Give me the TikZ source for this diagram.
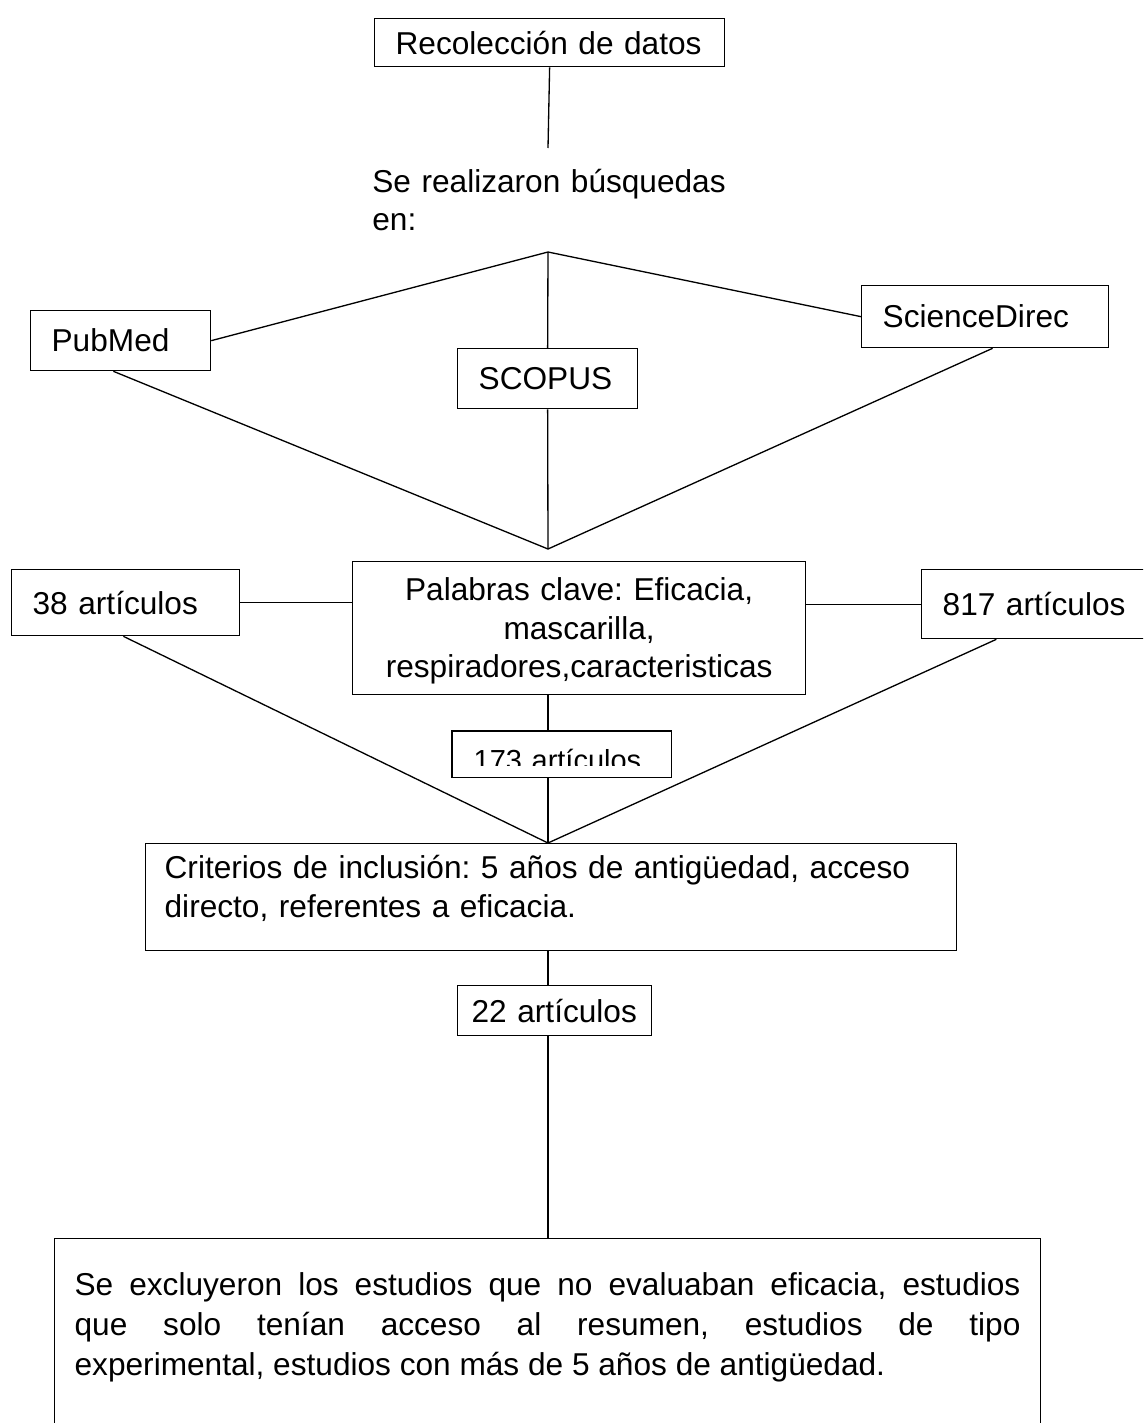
\documentclass[tikz,border=0pt]{standalone}
\usepackage{fontspec}
\setmainfont{Liberation Sans}
\usetikzlibrary{positioning, calc}
\tolerance=10000
\hbadness=10000
\frenchspacing

\tikzset{
  caja/.style={draw, line width=0.75pt, inner sep=0pt, anchor=north west, align=left},
  enlace/.style={line width=0.75pt},
}

\begin{document}
\begin{tikzpicture}[x=0.02cm, y=-0.02cm, font=\fontsize{18}{22}\selectfont]
\useasboundingbox (0,0) rectangle (1143,1423);
\clip (0,0) rectangle (1143,1423);

% Inicio
\node[caja, minimum width=7cm, minimum height=0.96cm, text width=6.16cm] (reco) at (374,18) {Recolección de datos};
\coordinate (fin1) at (548,148);
\node[anchor=base west, text width=7.2cm, align=left, inner sep=0pt] (busq) at (372,192) {Se realizaron búsquedas\\en:};
\coordinate (apex1) at (548,252);

% Bases de datos
\node[caja, minimum width=3.6cm, minimum height=1.2cm, text width=2.76cm] (pubmed) at (30,310) {PubMed};
\node[caja, minimum width=3.6cm, minimum height=1.2cm, text width=2.76cm] (scopus) at (457,348) {SCOPUS};
\node[caja, minimum width=4.94cm, minimum height=1.24cm, text width=4.1cm] (sd) at (861,285) {ScienceDirec};
\coordinate (apex2) at (548,549);

% Palabras clave y resultados
\node[caja, minimum width=9.06cm, text width=8.22cm, align=center, text height=0.78cm, text depth=1.88cm] (clave) at (352,561) {Palabras clave: Eficacia,\\mascarilla,\\respiradores,caracteristicas};
\node[caja, minimum width=4.56cm, minimum height=1.32cm, text width=3.72cm] (a38) at (11,569) {38 artículos};
\node[caja, minimum width=5cm, minimum height=1.38cm, text width=4.16cm] (a817) at (921,569) {817 artículos};

\begin{scope}
\clip (440,720) rectangle (680,765);
\node[caja, draw=none, minimum width=4.36cm, text width=3.52cm, font=\fontsize{16.5}{20}\selectfont, text height=0.78cm, text depth=0.12cm] (n173) at (452,731) {173 artículos};
\end{scope}
\draw[enlace] (n173.south west) rectangle (n173.north east);

% Criterios
\node[caja, minimum width=16.22cm, text width=15.46cm, text height=0.7cm, text depth=1.44cm] (crit) at (145,843) {Criterios de inclusión: 5 años de antigüedad, acceso\\directo, referentes a eficacia.};
\coordinate (apex3) at (apex2 |- crit.north);
\node[caja, minimum width=3.88cm, minimum height=1cm, text width=3.32cm] (n22) at (457,985) {22 artículos};
\node[caja, minimum width=19.72cm, text width=18.92cm, align=justify, font=\fontsize{18}{22.6}\selectfont, text height=1.14cm, text depth=4cm] (excl) at (54,1238) {Se excluyeron los estudios que no evaluaban eficacia, estudios\linebreak que solo tenían acceso al resumen, estudios de tipo\linebreak experimental, estudios con más de 5 años de antigüedad.};

% Conectores
\draw[enlace] (reco.south) -- (fin1);
\draw[enlace] (apex1) -- (pubmed.east);
\draw[enlace] (apex1) -- (scopus.north);
\draw[enlace] (apex1) -- (sd.west);
\draw[enlace] ($(pubmed.south west)!0.46!(pubmed.south east)$) -- (apex2);
\draw[enlace] (scopus.south) -- (apex2);
\draw[enlace] ($(sd.south west)!0.53!(sd.south east)$) -- (apex2);
\draw[enlace] (a38.east) -- (a38.east -| clave.west);
\draw[enlace] (a817.west) -- (a817.west -| clave.east);
\draw[enlace] (apex2 |- clave.south) -- (apex2 |- n173.north);
\draw[enlace] ($(a38.south west)!0.49!(a38.south east)$) -- (apex3);
\draw[enlace] (apex2 |- n173.south) -- (apex3);
\draw[enlace] ($(a817.south west)!0.3!(a817.south east)$) -- (apex3);
\draw[enlace] (apex2 |- crit.south) -- (apex2 |- n22.north);
\draw[enlace] (apex2 |- n22.south) -- (apex2 |- excl.north);
\end{tikzpicture}
\end{document}
